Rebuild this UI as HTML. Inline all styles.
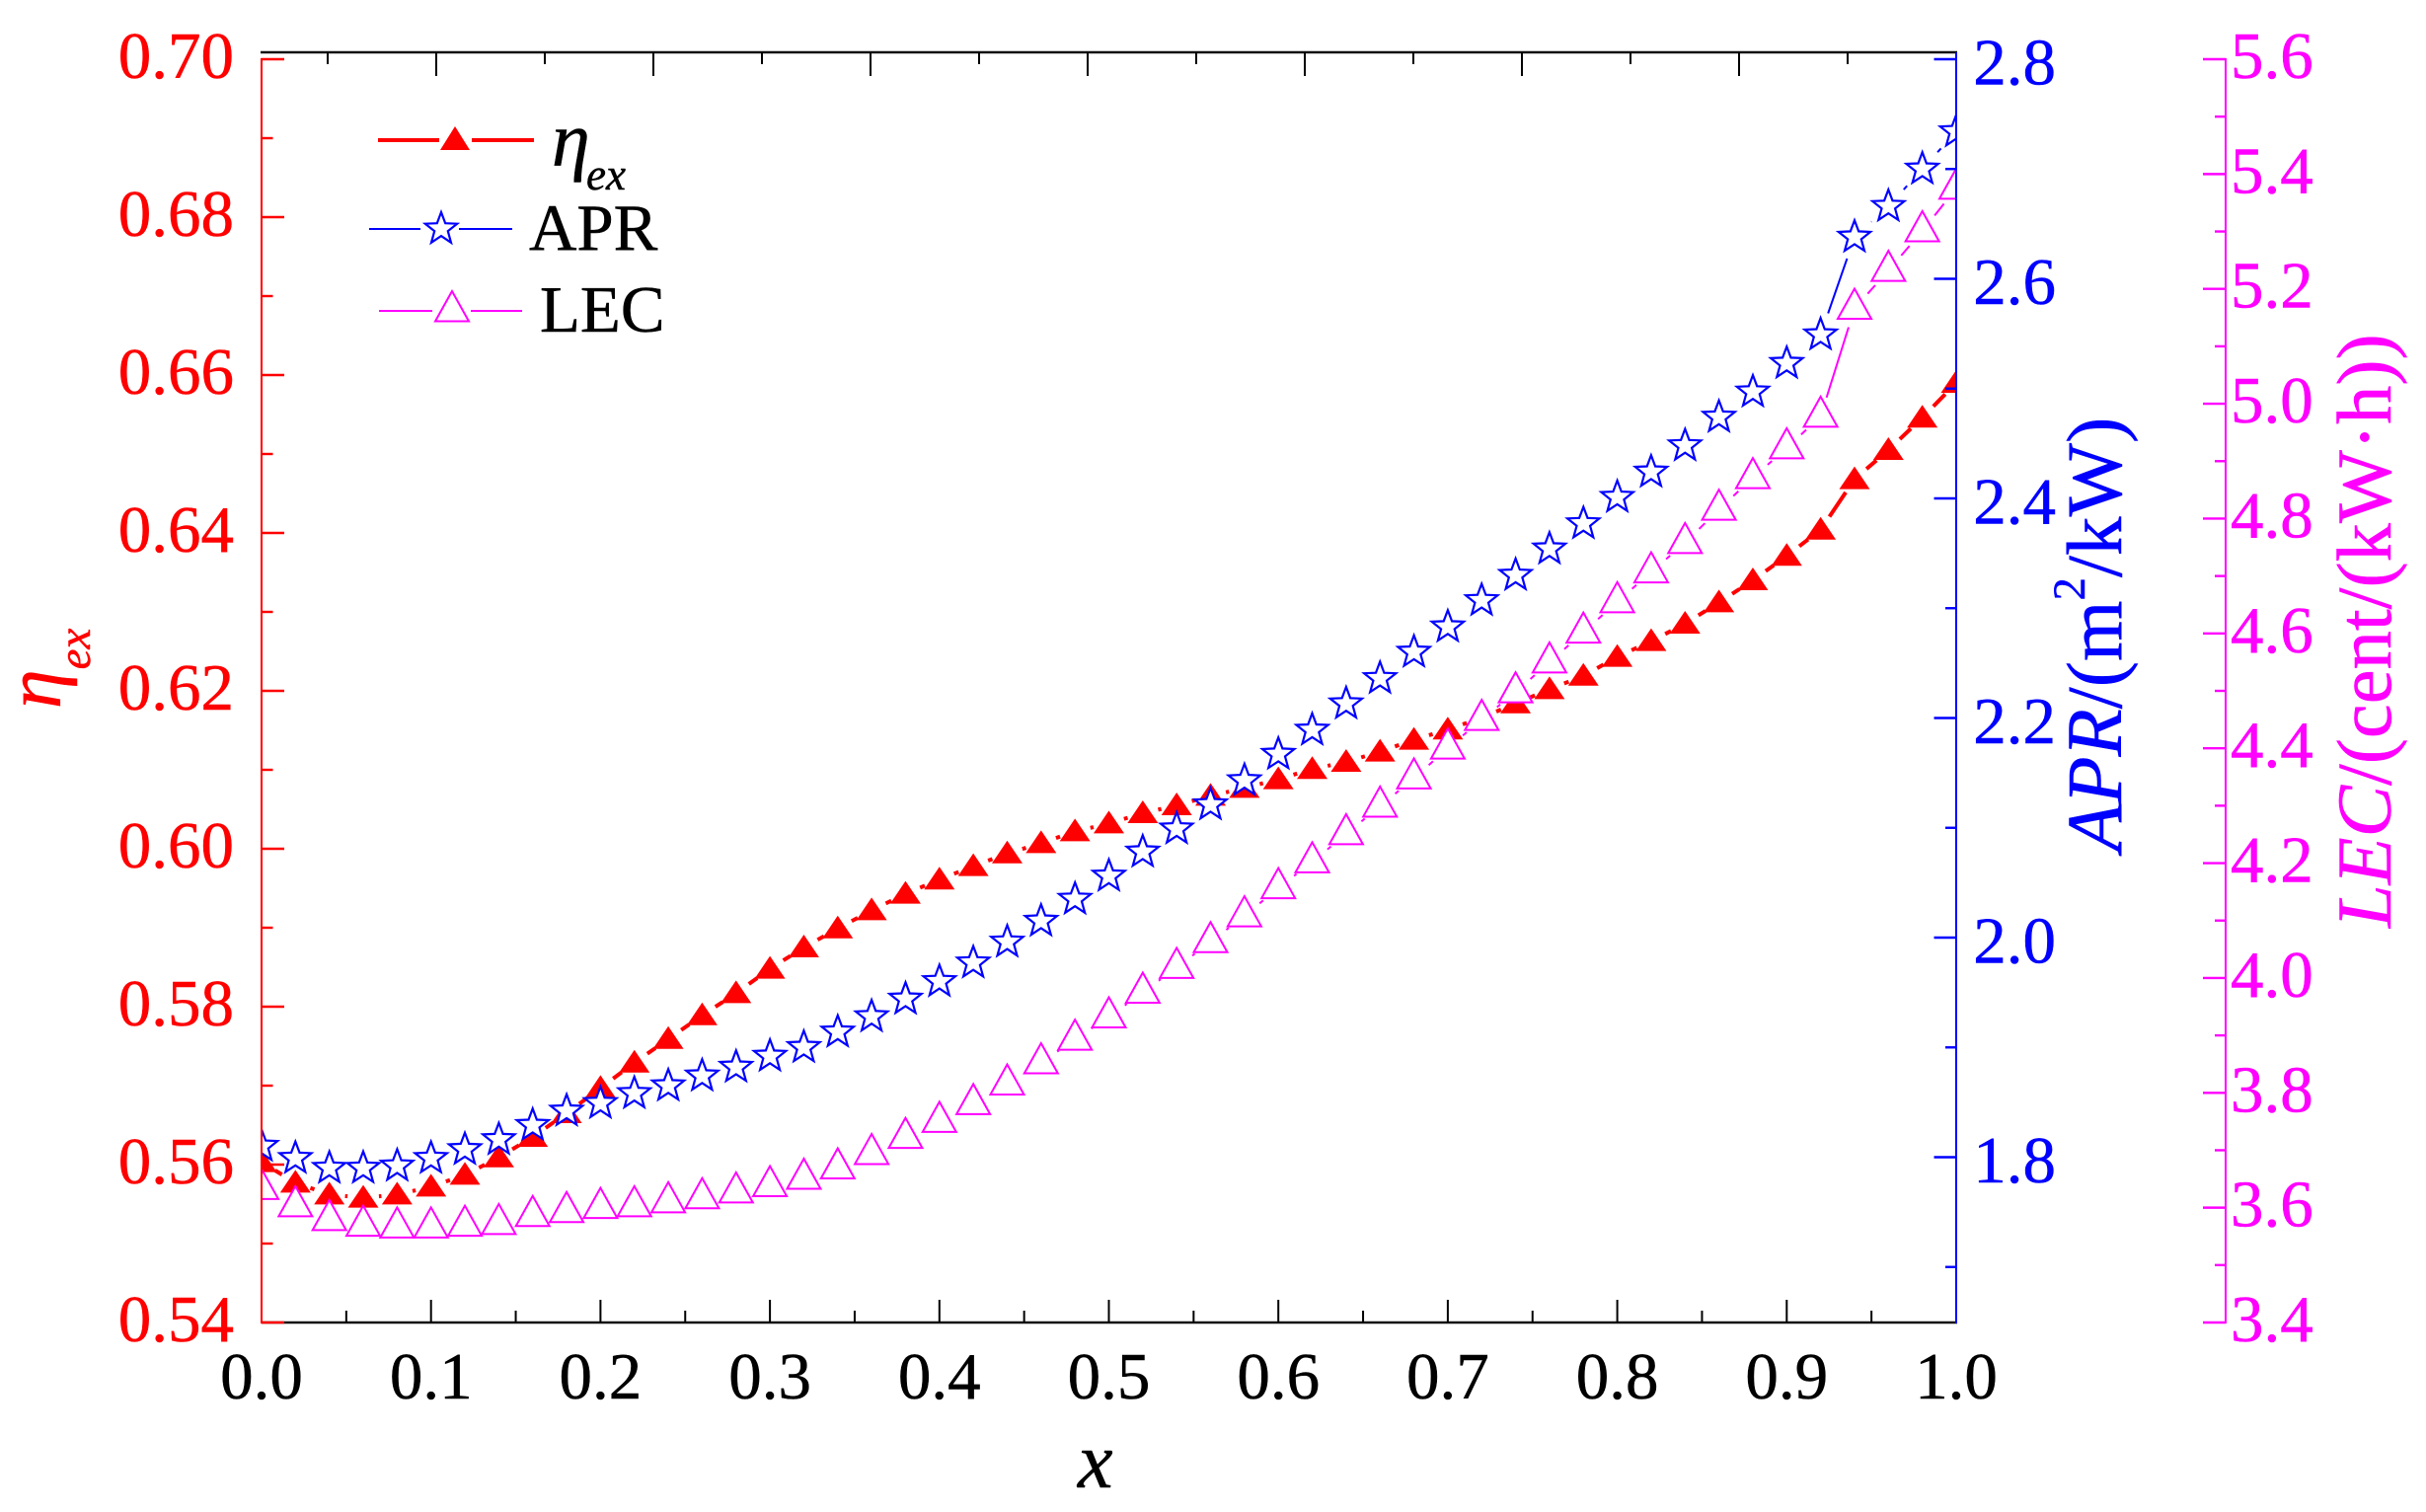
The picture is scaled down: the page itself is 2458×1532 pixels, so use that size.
<!DOCTYPE html>
<html>
<head>
<meta charset="utf-8">
<title>Exergy efficiency, APR and LEC versus x</title>
<style>
html,body{margin:0;padding:0;background:#fff;}
svg{display:block;}
text{font-family:"Liberation Serif","Times New Roman",serif;}
</style>
</head>
<body>
<svg id="chart" xmlns="http://www.w3.org/2000/svg" width="2458" height="1532" viewBox="0 0 2458 1532">
<rect x="0" y="0" width="2458" height="1532" fill="#fff"/>
<defs><clipPath id="plot-clip"><rect x="265" y="40" width="1717" height="1300"/></clipPath></defs>
<g id="series-layer" clip-path="url(#plot-clip)"></g>
<g id="axis-layer"></g>

<text x="1092" y="1507" font-size="80" font-style="italic" fill="#000" stroke="#000" stroke-width="0.5">x</text>
<text transform="translate(61,718) rotate(-90)" font-size="80" font-style="italic" fill="#f00" stroke="#f00" stroke-width="0.5">η<tspan dy="30" font-size="47">ex</tspan></text>
<text transform="translate(2149,863) rotate(-90)" font-size="79" fill="#00f" stroke="#00f" stroke-width="0.5"><tspan font-style="italic">APR</tspan>/(m<tspan dy="-37" font-size="47">2</tspan><tspan dy="37">/kW)</tspan></text>
<text transform="translate(2422,940) rotate(-90)" font-size="78.5" fill="#f0f" stroke="#f0f" stroke-width="0.5"><tspan font-style="italic">LEC</tspan>/(cent/(kW·h))</text>

<g>
  <g>
    <line x1="383" y1="142" x2="445" y2="142" stroke="#f00" stroke-width="4"/>
    <line x1="478" y1="142" x2="541" y2="142" stroke="#f00" stroke-width="4"/>
    <polygon points="461,128 446,152 476,152" fill="#f00"/>
    <text x="559" y="168" font-size="78" font-style="italic" fill="#000" stroke="#000" stroke-width="0.5">η</text>
    <text x="594" y="192" font-size="45" font-style="italic" fill="#000" stroke="#000" stroke-width="0.5">ex</text>
  </g>
  <g>
    <line x1="374" y1="232" x2="426" y2="232" stroke="#00f" stroke-width="2"/>
    <line x1="465" y1="232" x2="519" y2="232" stroke="#00f" stroke-width="2"/>
    <polygon id="legend-star" fill="#fff" stroke="#00f" stroke-width="2.2"/>
    <text x="536" y="253" font-size="67" fill="#000" stroke="#000" stroke-width="0.5">APR</text>
  </g>
  <g>
    <line x1="384" y1="315" x2="438" y2="315" stroke="#f0f" stroke-width="2"/>
    <line x1="477" y1="315" x2="529" y2="315" stroke="#f0f" stroke-width="2"/>
    <polygon points="458,295 441,325.5 475,325.5" fill="#fff" stroke="#f0f" stroke-width="2"/>
    <text x="547" y="336" font-size="67" fill="#000" stroke="#000" stroke-width="0.5">LEC</text>
  </g>
</g>

<script>
var xValues = [0,0.02,0.04,0.06,0.08,0.1,0.12,0.14,0.16,0.18,0.2,0.22,0.24,0.26,0.28,0.3,0.32,0.34,0.36,0.38,0.4,0.42,0.44,0.46,0.48,0.5,0.52,0.54,0.56,0.58,0.6,0.62,0.64,0.66,0.68,0.7,0.72,0.74,0.76,0.78,0.8,0.82,0.84,0.86,0.88,0.9,0.92,0.94,0.96,0.98,1];
var etaValues = [0.5603,0.5577,0.5562,0.5558,0.5562,0.5572,0.5587,0.5609,0.5635,0.5665,0.5697,0.5729,0.5759,0.5789,0.5817,0.5848,0.5875,0.5899,0.5922,0.5943,0.5961,0.5978,0.5994,0.6007,0.6022,0.6032,0.6045,0.6055,0.6067,0.6077,0.6088,0.6101,0.611,0.6123,0.6138,0.6151,0.6166,0.6184,0.6202,0.6219,0.6243,0.6263,0.6285,0.6312,0.634,0.6371,0.6404,0.6468,0.6505,0.6546,0.659];
var aprValues = [1.81,1.799,1.79,1.79,1.792,1.799,1.807,1.816,1.829,1.842,1.849,1.858,1.865,1.874,1.882,1.892,1.9,1.914,1.928,1.944,1.96,1.977,1.996,2.015,2.035,2.056,2.078,2.099,2.121,2.143,2.167,2.189,2.213,2.236,2.26,2.283,2.307,2.33,2.354,2.377,2.401,2.424,2.448,2.474,2.497,2.523,2.549,2.638,2.666,2.7,2.734];
var lecValues = [3.633,3.603,3.579,3.569,3.566,3.566,3.569,3.572,3.586,3.593,3.6,3.603,3.61,3.617,3.627,3.638,3.651,3.669,3.694,3.722,3.75,3.781,3.815,3.852,3.893,3.932,3.975,4.018,4.063,4.108,4.157,4.202,4.251,4.299,4.348,4.4,4.45,4.498,4.55,4.602,4.655,4.707,4.758,4.816,4.871,4.923,4.978,5.166,5.232,5.301,5.375];
var xTickLabels = ["0.0","0.1","0.2","0.3","0.4","0.5","0.6","0.7","0.8","0.9","1.0"];
var etaTickLabels = ["0.54","0.56","0.58","0.60","0.62","0.64","0.66","0.68","0.70"];
var aprTickLabels = ["1.8","2.0","2.2","2.4","2.6","2.8"];
var lecTickLabels = ["3.4","3.6","3.8","4.0","4.2","4.4","4.6","4.8","5.0","5.2","5.4","5.6"];
var aprMinorTicks = [1.7,1.9,2.1,2.3,2.5,2.7];
var lecMinorTicks = [3.5,3.7,3.9,4.1,4.3,4.5,4.7,4.9,5.1,5.3,5.5];
var etaMinorTicks = [0.55,0.57,0.59,0.61,0.63,0.65,0.67,0.69];
var xMinorTicks = [0.05,0.15,0.25,0.35,0.45,0.55,0.65,0.75,0.85,0.95];
var topMajorSteps = [0,2,4,6,8,10,12,14];
var topMinorSteps = [1,3,5,7,9,11,13,15];

var NS = "http://www.w3.org/2000/svg";
var LEFT = 265, RIGHT = 1982, TOP = 60, BOTTOM = 1340, FRAME_TOP = 53, AXIS3 = 2255;
function xPos(v){ return LEFT + v * (RIGHT - LEFT); }
function etaPos(v){ return TOP + (0.70 - v) * 8000; }
function aprPos(v){ return TOP + (2.8 - v) * 1112.5; }
function lecPos(v){ return BOTTOM - (v - 3.4) * (BOTTOM - TOP) / 2.2; }
function topTickPos(k){ return RIGHT - 110 * k; }

var axisLayer = document.getElementById("axis-layer");
var seriesLayer = document.getElementById("series-layer");

function shape(tag, attrs, parent){
  var el = document.createElementNS(NS, tag);
  for (var k in attrs) { el.setAttribute(k, attrs[k]); }
  parent.appendChild(el);
  return el;
}
function tri(x, y, up, down, half){
  return x + "," + (y - up) + " " + (x - half) + "," + (y + down) + " " + (x + half) + "," + (y + down);
}
function star(x, y, R){
  var r = R * 0.42, pts = [];
  for (var i = 0; i < 10; i++){
    var a = -Math.PI / 2 + i * Math.PI / 5, rad = i % 2 ? r : R;
    pts.push((x + rad * Math.cos(a)).toFixed(1) + "," + (y + rad * Math.sin(a)).toFixed(1));
  }
  return pts.join(" ");
}
function label(txt, x, y, anchor, color, parent){
  var t = shape("text", {x:x, y:y, "text-anchor":anchor, "font-size":67, fill:color, stroke:color, "stroke-width":0.5}, parent);
  t.textContent = txt;
  return t;
}

document.getElementById("legend-star").setAttribute("points", star(447, 232, 17));

function drawLine(pos, color, width, gap, name){
  for (var i = 0; i < xValues.length - 1; i++){
    var x1 = xPos(xValues[i]), y1 = pos(i), x2 = xPos(xValues[i + 1]), y2 = pos(i + 1);
    var d = Math.hypot(x2 - x1, y2 - y1);
    if (d <= 2 * gap) continue;
    var ux = (x2 - x1) / d, uy = (y2 - y1) / d;
    var seg = shape("line", {x1:x1 + ux * gap, y1:y1 + uy * gap, x2:x2 - ux * gap, y2:y2 - uy * gap, stroke:color, "stroke-width":width}, seriesLayer);
    
    
  }
}

/* eta series */
drawLine(function(i){ return etaPos(etaValues[i]); }, "#f00", 4, 16, "eta");
etaValues.forEach(function(v, i){
  var m = shape("polygon", {points:tri(xPos(xValues[i]), etaPos(v), 13, 10, 15.5), fill:"#f00"}, seriesLayer);
  
  
});

/* APR series */
drawLine(function(i){ return aprPos(aprValues[i]); }, "#00f", 2, 23, "apr");
aprValues.forEach(function(v, i){
  var m = shape("polygon", {points:star(xPos(xValues[i]), aprPos(v), 17), fill:"#fff", stroke:"#00f", "stroke-width":2.2}, seriesLayer);
  
  
});

/* LEC series */
drawLine(function(i){ return lecPos(lecValues[i]); }, "#f0f", 2, 20, "lec");
lecValues.forEach(function(v, i){
  var m = shape("polygon", {points:tri(xPos(xValues[i]), lecPos(v), 20, 10.5, 17), fill:"#fff", stroke:"#f0f", "stroke-width":2}, seriesLayer);
  
  
});

/* top frame and bottom axis */
var topFrame = shape("line", {x1:LEFT - 1, y1:FRAME_TOP, x2:RIGHT + 1, y2:FRAME_TOP, stroke:"#111", "stroke-width":2.6}, axisLayer);


topMajorSteps.forEach(function(k){
  var t = shape("line", {x1:topTickPos(k), y1:FRAME_TOP, x2:topTickPos(k), y2:77, stroke:"#000", "stroke-width":2}, axisLayer);
  
  
});
topMinorSteps.forEach(function(k){
  var t = shape("line", {x1:topTickPos(k), y1:FRAME_TOP, x2:topTickPos(k), y2:65, stroke:"#000", "stroke-width":2}, axisLayer);
  
  
});

var xAxis = shape("line", {x1:LEFT, y1:BOTTOM, x2:RIGHT + 1, y2:BOTTOM, stroke:"#111", "stroke-width":2.6}, axisLayer);


xTickLabels.forEach(function(s){
  var v = parseFloat(s), x = xPos(v);
  if (v > 0 && v < 1) {
    var t = shape("line", {x1:x, y1:BOTTOM, x2:x, y2:1317, stroke:"#000", "stroke-width":2}, axisLayer);
    
    
  }
  var l = label(s, x, 1417, "middle", "#000", axisLayer);
  
  
});
xMinorTicks.forEach(function(v){
  var t = shape("line", {x1:xPos(v), y1:BOTTOM, x2:xPos(v), y2:1328, stroke:"#000", "stroke-width":2}, axisLayer);
  
  
});

/* left eta axis */
var etaAxis = shape("line", {x1:LEFT, y1:TOP - 1, x2:LEFT, y2:BOTTOM + 1, stroke:"#f00", "stroke-width":2}, axisLayer);


etaTickLabels.forEach(function(s){
  var y = etaPos(parseFloat(s));
  var t = shape("line", {x1:LEFT, y1:y, x2:288, y2:y, stroke:"#f00", "stroke-width":2.4}, axisLayer);
  
  
  var l = label(s, 237, y + 19, "end", "#f00", axisLayer);
  
  
});
etaMinorTicks.forEach(function(v){
  var t = shape("line", {x1:LEFT, y1:etaPos(v), x2:276.5, y2:etaPos(v), stroke:"#f00", "stroke-width":2.4}, axisLayer);
  
  
});

/* right APR axis */
var aprAxis = shape("line", {x1:RIGHT, y1:FRAME_TOP, x2:RIGHT, y2:BOTTOM + 1, stroke:"#00f", "stroke-width":2}, axisLayer);


aprTickLabels.forEach(function(s){
  var y = aprPos(parseFloat(s));
  var t = shape("line", {x1:1959.5, y1:y, x2:RIGHT, y2:y, stroke:"#00f", "stroke-width":2.4}, axisLayer);
  
  
  var l = label(s, 2083, y + 25.5, "end", "#00f", axisLayer);
  
  
});
aprMinorTicks.forEach(function(v){
  var t = shape("line", {x1:1971, y1:aprPos(v), x2:RIGHT, y2:aprPos(v), stroke:"#00f", "stroke-width":2.4}, axisLayer);
  
  
});

/* offset LEC axis */
var lecAxis = shape("line", {x1:AXIS3, y1:TOP - 1, x2:AXIS3, y2:BOTTOM + 1, stroke:"#f0f", "stroke-width":2}, axisLayer);


lecTickLabels.forEach(function(s){
  var y = lecPos(parseFloat(s));
  var t = shape("line", {x1:2232, y1:y, x2:AXIS3, y2:y, stroke:"#f0f", "stroke-width":2.4}, axisLayer);
  
  
  var l = label(s, 2260, y + 19, "start", "#f0f", axisLayer);
  
  
});
lecMinorTicks.forEach(function(v){
  var t = shape("line", {x1:2244, y1:lecPos(v), x2:AXIS3, y2:lecPos(v), stroke:"#f0f", "stroke-width":2.4}, axisLayer);
  
  
});
</script>
</svg>
</body>
</html>
